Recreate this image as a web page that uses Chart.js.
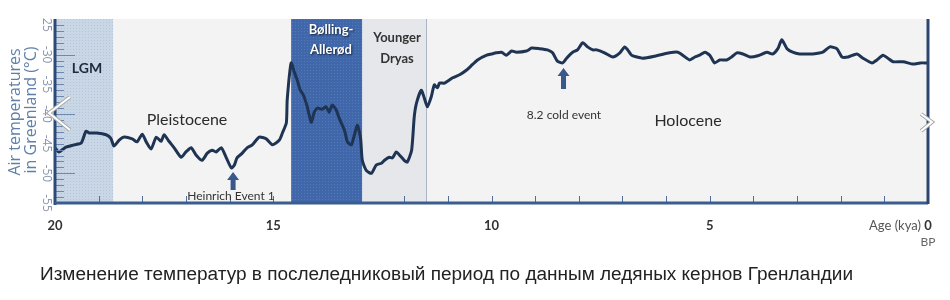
<!DOCTYPE html>
<html>
<head>
<meta charset="utf-8">
<script src="https://cdn.jsdelivr.net/npm/chart.js@4.4.1/dist/chart.umd.min.js"></script>
<style>
  html, body { margin: 0; padding: 0; background: #fff; }
  #wrap { width: 950px; height: 300px; }
</style>
</head>
<body>
<div id="wrap"><canvas id="myChart" width="950" height="300"></canvas></div>
<script>
// ages in kya (BP)
const ages = [20.0, 19.91, 19.75, 19.56, 19.40, 19.29, 19.22, 19.04, 18.83, 18.72,
  18.65, 18.53, 18.42, 18.23, 18.12, 18.00, 17.91, 17.80, 17.68, 17.57,
  17.50, 17.39, 17.27, 17.11, 17.00, 16.88, 16.77, 16.63, 16.51, 16.40,
  16.31, 16.19, 16.08, 15.96, 15.89, 15.83, 15.71, 15.60, 15.48, 15.32,
  15.16, 15.02, 14.86, 14.79, 14.70, 14.68, 14.59, 14.52, 14.45, 14.38,
  14.31, 14.22, 14.13, 14.06, 13.99, 13.88, 13.79, 13.72, 13.65, 13.56,
  13.49, 13.37, 13.30, 13.21, 13.14, 13.07, 13.00, 12.96, 12.87, 12.75,
  12.64, 12.52, 12.45, 12.34, 12.27, 12.18, 12.11, 12.00, 11.93, 11.83,
  11.77, 11.72, 11.61, 11.54, 11.47, 11.38, 11.31, 11.24, 11.19, 11.08,
  10.89, 10.73, 10.57, 10.44, 10.32, 10.11, 10.00, 9.89, 9.77, 9.66,
  9.54, 9.43, 9.20, 9.08, 8.90, 8.72, 8.60, 8.49, 8.37, 8.28,
  8.14, 8.03, 7.91, 7.80, 7.68, 7.59, 7.41, 7.22, 7.06, 6.95,
  6.88, 6.79, 6.54, 6.22, 5.92, 5.73, 5.62, 5.46, 5.34, 5.23,
  5.11, 5.00, 4.89, 4.77, 4.61, 4.50, 4.38, 4.24, 4.08, 3.90,
  3.69, 3.56, 3.44, 3.35, 3.23, 3.10, 2.94, 2.78, 2.64, 2.41,
  2.25, 2.09, 1.97, 1.83, 1.63, 1.49, 1.28, 1.17, 1.03, 0.92,
  0.80, 0.57, 0.34, 0.18, 0.02];

// air temperature in Greenland, °C
const temps = [-45.7, -46.4, -45.6, -45.2, -44.9, -42.9, -43.2, -43.2, -43.5, -44.1,
  -45.4, -44.4, -43.9, -44.2, -44.7, -43.4, -44.7, -45.9, -43.9, -44.6,
  -43.5, -44.6, -45.7, -47.3, -46.4, -45.7, -46.9, -47.8, -46.6, -46.1,
  -46.4, -45.7, -47.3, -49.1, -48.6, -47.4, -46.6, -45.7, -45.2, -43.9,
  -44.2, -45.2, -44.4, -43.2, -41.5, -37.6, -31.4, -32.9, -34.3, -36.0,
  -36.8, -38.8, -41.4, -39.7, -39.0, -39.2, -38.8, -39.7, -38.5, -39.3,
  -40.7, -42.7, -44.7, -45.2, -43.5, -41.9, -44.1, -47.8, -49.5, -50.0,
  -48.6, -48.3, -47.8, -47.3, -47.4, -46.4, -46.9, -47.8, -48.1, -46.1,
  -40.5, -38.2, -36.0, -37.3, -38.8, -37.1, -35.1, -35.6, -34.8, -34.8,
  -33.9, -33.4, -32.6, -31.7, -30.9, -30.1, -29.9, -29.7, -29.6, -30.1,
  -29.4, -29.6, -29.4, -28.9, -29.0, -29.2, -29.7, -31.1, -31.4, -30.6,
  -29.6, -29.2, -28.0, -28.7, -29.2, -29.2, -29.7, -30.4, -29.7, -28.7,
  -29.2, -30.1, -30.6, -30.2, -29.7, -29.6, -30.1, -30.9, -30.4, -30.1,
  -29.6, -30.1, -31.4, -30.9, -30.9, -30.4, -29.7, -29.9, -30.4, -30.2,
  -29.6, -29.9, -29.0, -27.5, -29.0, -29.6, -29.9, -29.9, -29.9, -29.6,
  -28.7, -29.0, -30.4, -30.4, -29.9, -30.6, -31.4, -30.9, -30.1, -30.6,
  -31.2, -31.2, -31.6, -31.4, -31.4];

const xTickValues = [20, 15, 10, 5, 0];
const yTickValues = [-25, -30, -35, -40, -45, -50, -55];
const yTickLabels = ['25', '-30', '-35', '-40', '-45', '-50', '-55'];

// periods (kya)
const lgmRange = [20, 18.67];
const bollingRange = [14.59, 12.96];
const dryasRange = [12.96, 11.5];
const eventAges = [15.92, 8.35];   // Heinrich 1, 8.2 cold event

function dotPattern(ctx, base, dot) {
  const c = document.createElement('canvas');
  c.width = 3; c.height = 3;
  const g = c.getContext('2d');
  g.fillStyle = base;
  g.fillRect(0, 0, 3, 3);
  g.fillStyle = dot;
  g.fillRect(1, 1, 1, 1);
  return ctx.createPattern(c, 'repeat');
}

function upArrow(ctx, x, top, bottom) {
  ctx.fillStyle = '#39598a';
  ctx.beginPath();
  ctx.moveTo(x, top);
  ctx.lineTo(x + 6, top + 8);
  ctx.lineTo(x + 2.5, top + 8);
  ctx.lineTo(x + 2.5, bottom);
  ctx.lineTo(x - 2.5, bottom);
  ctx.lineTo(x - 2.5, top + 8);
  ctx.lineTo(x - 6, top + 8);
  ctx.closePath();
  ctx.fill();
}

const decor = {
  id: 'decor',
  beforeDatasetsDraw(chart) {
    const ctx = chart.ctx;
    const a = chart.chartArea;
    const xs = chart.scales.x;
    ctx.save();
    ctx.fillStyle = '#f3f3f4';
    ctx.fillRect(a.left, a.top, a.right - a.left, a.bottom - a.top);

    let l = xs.getPixelForValue(lgmRange[0]), r = xs.getPixelForValue(lgmRange[1]);
    ctx.fillStyle = dotPattern(ctx, '#c9d6e6', '#b6c6da');
    ctx.fillRect(l, a.top, r - l, a.bottom - a.top);

    l = xs.getPixelForValue(bollingRange[0]); r = xs.getPixelForValue(bollingRange[1]);
    ctx.fillStyle = dotPattern(ctx, '#3f67aa', '#5479b6');
    ctx.fillRect(l, a.top, r - l, a.bottom - a.top);

    l = xs.getPixelForValue(dryasRange[0]); r = xs.getPixelForValue(dryasRange[1]);
    ctx.fillStyle = '#e5e7eb';
    ctx.fillRect(l, a.top, r - l, a.bottom - a.top);
    ctx.strokeStyle = '#a9b5c6';
    ctx.lineWidth = 1;
    ctx.beginPath();
    ctx.moveTo(r + 0.5, a.top);
    ctx.lineTo(r + 0.5, a.bottom);
    ctx.stroke();
    ctx.restore();
  },
  afterDatasetsDraw(chart) {
    const ctx = chart.ctx;
    const a = chart.chartArea;
    const xs = chart.scales.x, ys = chart.scales.y;
    ctx.save();

    // y minor / major ticks
    ctx.strokeStyle = '#6c88ae';
    ctx.lineWidth = 1;
    for (let v = -55; v <= -25; v += 1) {
      const y = Math.round(ys.getPixelForValue(v)) + 0.5;
      let len = 9;
      if (v % 10 === 0) len = 20;
      ctx.beginPath();
      ctx.moveTo(a.left, y);
      ctx.lineTo(a.left + len, y);
      ctx.stroke();
    }
    // x ticks every 1 kya, pointing up
    ctx.strokeStyle = '#4d6e9a';
    for (let v = 0; v <= 20; v += 1) {
      const x = Math.round(xs.getPixelForValue(v)) + 0.5;
      ctx.beginPath();
      ctx.moveTo(x, a.bottom);
      ctx.lineTo(x, a.bottom - 7);
      ctx.stroke();
    }

    // axis lines
    ctx.lineWidth = 3;
    ctx.strokeStyle = '#2c4a78';
    ctx.beginPath();
    ctx.moveTo(a.left, a.top);
    ctx.lineTo(a.left, a.bottom + 2);
    ctx.stroke();
    ctx.strokeStyle = '#3a5d8f';
    ctx.beginPath();
    ctx.moveTo(a.left, a.bottom);
    ctx.lineTo(a.right, a.bottom);
    ctx.stroke();
    ctx.strokeStyle = '#2e466f';
    ctx.beginPath();
    ctx.moveTo(a.right, a.top);
    ctx.lineTo(a.right, a.bottom + 1);
    ctx.stroke();

    // y tick labels (rotated)
    ctx.fillStyle = '#8494ab';
    ctx.font = '12px "Open Sans"';
    ctx.textAlign = 'center';
    ctx.textBaseline = 'middle';
    yTickValues.forEach((v, i) => {
      ctx.save();
      ctx.translate(46, ys.getPixelForValue(v));
      ctx.rotate(Math.PI / 2);
      ctx.fillText(yTickLabels[i], 0, 0);
      ctx.restore();
    });

    // y axis title
    ctx.fillStyle = '#5f80a8';
    ctx.font = '16px "Open Sans"';
    ctx.save();
    ctx.translate(15, 112);
    ctx.rotate(-Math.PI / 2);
    ctx.fillText('Air temperatures', 0, 0);
    ctx.restore();
    ctx.save();
    ctx.translate(31, 110);
    ctx.rotate(-Math.PI / 2);
    ctx.fillText('in Greenland (\u00b0C)', 0, 0);
    ctx.restore();

    // x labels
    ctx.fillStyle = '#333';
    ctx.font = 'bold 13px Lato';
    xTickValues.forEach(v => {
      ctx.fillText(String(v), xs.getPixelForValue(v), 226);
    });
    ctx.fillStyle = '#555';
    ctx.font = '13px Lato';
    ctx.textAlign = 'right';
    ctx.fillText('Age (kya)', a.right - 7, 226);
    ctx.textAlign = 'center';
    ctx.font = '12px Lato';
    ctx.fillStyle = '#666';
    ctx.fillText('BP', a.right, 242);

    // period labels
    ctx.fillStyle = '#1e2b3c';
    ctx.font = 'bold 14px Lato';
    ctx.fillText('LGM', 87, 68);
    ctx.fillStyle = '#2b2b2b';
    ctx.font = '16px Lato';
    ctx.fillText('Pleistocene', 187, 120);
    ctx.fillText('Holocene', 688, 121);
    ctx.fillStyle = '#333';
    ctx.font = '12px Lato';
    ctx.fillText('Heinrich Event 1', 231, 196);
    ctx.fillText('8.2 cold event', 564, 115);

    ctx.font = 'bold 13px Lato';
    ctx.fillStyle = '#333';
    ctx.fillText('Younger', 397, 38);
    ctx.fillText('Dryas', 397, 59);
    ctx.save();
    ctx.shadowColor = 'rgba(0,0,0,0.7)';
    ctx.shadowBlur = 2;
    ctx.shadowOffsetX = 1;
    ctx.shadowOffsetY = 1;
    ctx.fillStyle = '#ffffff';
    ctx.fillText('B\u00f8lling-', 331, 30);
    ctx.fillText('Aller\u00f8d', 331, 50);
    ctx.restore();

    // event arrows
    upArrow(ctx, xs.getPixelForValue(eventAges[0]), 172, 190);
    upArrow(ctx, xs.getPixelForValue(eventAges[1]), 68, 89);

    // slider chevrons
    ctx.lineJoin = 'miter';
    [[70, 97, 49, 113, 70, 130], [921, 114, 932, 122, 921, 131]].forEach(p => {
      ctx.beginPath();
      ctx.moveTo(p[0], p[1]);
      ctx.lineTo(p[2], p[3]);
      ctx.lineTo(p[4], p[5]);
      ctx.strokeStyle = '#a8a8a8';
      ctx.lineWidth = 4;
      ctx.stroke();
      ctx.strokeStyle = '#ffffff';
      ctx.lineWidth = 2;
      ctx.stroke();
    });

    // caption, squeezed to the width it has in the picture
    const caption = 'Изменение температур в послеледниковый период по данным ледяных кернов Гренландии';
    ctx.font = '18px "Liberation Sans"';
    ctx.fillStyle = '#222';
    ctx.textAlign = 'left';
    const w = ctx.measureText(caption).width;
    ctx.save();
    ctx.translate(40, 275);
    ctx.scale(813 / w, 1);
    ctx.fillText(caption, 0, 0);
    ctx.restore();

    ctx.restore();
  }
};

const ctx = document.getElementById('myChart').getContext('2d');
new Chart(ctx, {
  type: 'line',
  data: {
    datasets: [{
      data: ages.map((a, i) => ({ x: a, y: temps[i] })),
      borderColor: '#1f3452',
      borderWidth: 3,
      pointRadius: 0,
      tension: 0.2,
      fill: false
    }]
  },
  options: {
    responsive: false,
    animation: false,
    layout: { padding: { left: 55, right: 22, top: 19, bottom: 97 } },
    plugins: { legend: { display: false }, tooltip: { enabled: false } },
    scales: {
      x: { type: 'linear', min: 0, max: 20, reverse: true, display: false },
      y: { min: -55, max: -24, display: false }
    }
  },
  plugins: [decor]
});
</script>
</body>
</html>
